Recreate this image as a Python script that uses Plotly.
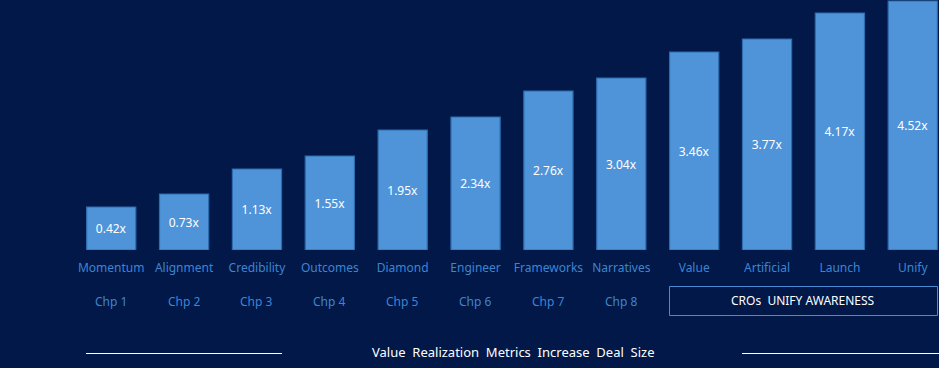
import plotly.graph_objects as go

categories = ["Momentum", "Alignment", "Credibility", "Outcomes", "Diamond", "Engineer",
              "Frameworks", "Narratives", "Value", "Artificial", "Launch", "Unify"]
bar_heights = [0.86, 1.12, 1.62, 1.88, 2.40, 2.66, 3.18, 3.44, 3.96, 4.22, 4.74, 4.98]
multiplier_labels = ["0.42x", "0.73x", "1.13x", "1.55x", "1.95x", "2.34x",
                     "2.76x", "3.04x", "3.46x", "3.77x", "4.17x", "4.52x"]
chapter_labels = ["Chp 1", "Chp 2", "Chp 3", "Chp 4", "Chp 5", "Chp 6", "Chp 7", "Chp 8"]
group_label = "CROs  UNIFY AWARENESS"
footer_title = "Value  Realization  Metrics  Increase  Deal  Size"

BG = "#011848"
BAR = "#4f94d9"
BAR_EDGE = "#2d6cae"
LABEL = "#3d85d3"
FONT = "Noto Sans"

W, H = 939, 368
ML, MB = 75, 118
pw, ph = W - ML, H - MB


def px_x(px):
    return (px - ML) / pw


def px_y(py):
    return (ph - py) / ph


fig = go.Figure()
fig.add_trace(go.Bar(
    x=categories, y=bar_heights, text=multiplier_labels,
    textposition="inside", insidetextanchor="middle",
    textfont=dict(color="white", size=12, family=FONT),
    marker=dict(color=BAR, line=dict(color=BAR_EDGE, width=1.2)),
    width=0.675, cliponaxis=False, hoverinfo="skip",
))

annotations = []
for i, c in enumerate(chapter_labels):
    annotations.append(dict(x=categories[i], y=px_y(301), xref="x", yref="paper", text=c,
                            showarrow=False, font=dict(color=LABEL, size=12, family=FONT),
                            xanchor="center", yanchor="middle"))
annotations.append(dict(x=px_x(803), y=px_y(300.5), xref="paper", yref="paper", text=group_label,
                        showarrow=False, font=dict(color="white", size=12, family=FONT),
                        xanchor="center", yanchor="middle"))
annotations.append(dict(x=px_x(513), y=px_y(352), xref="paper", yref="paper", text=footer_title,
                        showarrow=False, font=dict(color="white", size=13, family=FONT),
                        xanchor="center", yanchor="middle"))

fig.update_layout(
    width=W, height=H,
    margin=dict(l=ML, r=0, t=0, b=MB, pad=0),
    paper_bgcolor=BG, plot_bgcolor=BG,
    showlegend=False,
    xaxis=dict(type="category", range=[-0.497, 11.36], showgrid=False, zeroline=False,
               showline=False, ticks="", tickfont=dict(color=LABEL, size=12, family=FONT),
               ticklabelstandoff=9),
    yaxis=dict(range=[0, 5.0], visible=False, fixedrange=True),
    annotations=annotations,
)

fig.add_shape(type="rect", xref="paper", yref="paper",
              x0=px_x(669.5), x1=px_x(937.5), y0=px_y(286.5), y1=px_y(315.5),
              line=dict(color="#4a8ad2", width=1))
fig.add_shape(type="line", xref="paper", yref="paper",
              x0=px_x(86), x1=px_x(282), y0=px_y(353.5), y1=px_y(353.5),
              line=dict(color="white", width=1))
fig.add_shape(type="line", xref="paper", yref="paper",
              x0=px_x(742), x1=px_x(939), y0=px_y(353.5), y1=px_y(353.5),
              line=dict(color="white", width=1))

fig.write_html("out.html", config={"displayModeBar": False, "staticPlot": True},
               post_script="document.body.style.margin='0';document.body.style.background='%s';" % BG)
